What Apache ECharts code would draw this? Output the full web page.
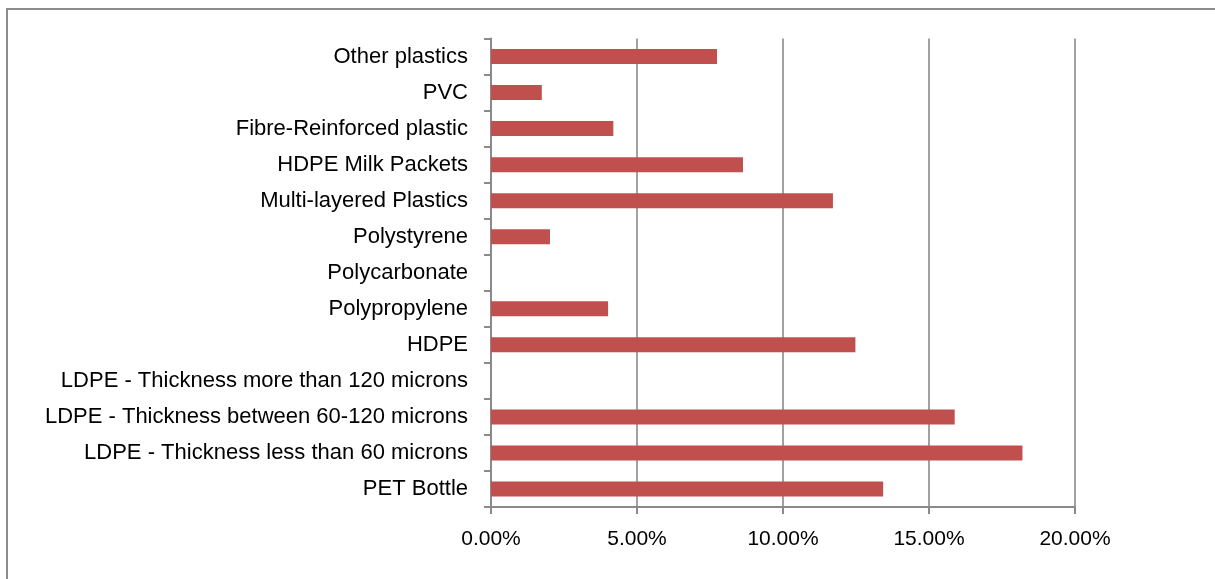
<!DOCTYPE html>
<html>
<head>
<meta charset="utf-8">
<script src="https://cdn.jsdelivr.net/npm/echarts@6/dist/echarts.min.js"></script>
<style>
  html, body { margin: 0; padding: 0; background: #ffffff; }
  #chart { width: 1215px; height: 579px; }
</style>
</head>
<body>
<div id="chart"></div>
<script>
// Plastic waste composition, share of total (percent), listed top to bottom
const categories = [
  'Other plastics',
  'PVC',
  'Fibre-Reinforced plastic',
  'HDPE Milk Packets',
  'Multi-layered Plastics',
  'Polystyrene',
  'Polycarbonate',
  'Polypropylene',
  'HDPE',
  'LDPE - Thickness more than 120 microns',
  'LDPE - Thickness between 60-120 microns',
  'LDPE - Thickness less than 60 microns',
  'PET Bottle'
];
const shares = [7.74, 1.74, 4.19, 8.63, 11.71, 2.02, 0, 4.01, 12.48, 0, 15.88, 18.2, 13.43];
const xTicks = [0, 5, 10, 15, 20];

const chart = echarts.init(document.getElementById('chart'));
const axisGray = '#8a8a8a';

chart.setOption({
  animation: false,
  backgroundColor: '#ffffff',
  graphic: [{
    type: 'rect',
    shape: { x: 7, y: 9, width: 1230, height: 590 },
    style: { fill: 'none', stroke: '#8c8c8c', lineWidth: 2 },
    silent: true
  }],
  grid: { left: 491, right: 140, top: 38.5, bottom: 72, containLabel: false },
  xAxis: {
    type: 'value',
    min: xTicks[0],
    max: xTicks[xTicks.length - 1],
    interval: xTicks[1] - xTicks[0],
    axisLine: { show: true, lineStyle: { color: axisGray, width: 2 } },
    axisTick: { show: true, length: 7, lineStyle: { color: axisGray, width: 2 } },
    splitLine: { show: true, lineStyle: { color: axisGray, width: 1.6 } },
    axisLabel: {
      margin: 22,
      color: '#000000',
      fontSize: 21,
      fontFamily: "'Liberation Sans', Arial, sans-serif",
      formatter: v => v.toFixed(2) + '%'
    }
  },
  yAxis: {
    type: 'category',
    data: categories,
    inverse: true,
    axisLine: { show: true, lineStyle: { color: axisGray, width: 2 } },
    axisTick: { show: true, length: 7, alignWithLabel: false, lineStyle: { color: axisGray, width: 2 } },
    splitLine: { show: false },
    axisLabel: {
      margin: 23,
      color: '#000000',
      fontSize: 22,
      fontFamily: "'Liberation Sans', Arial, sans-serif"
    }
  },
  series: [{
    type: 'bar',
    data: shares,
    barWidth: 15,
    itemStyle: { color: '#C0504D' },
    silent: true
  }]
});
</script>
</body>
</html>
